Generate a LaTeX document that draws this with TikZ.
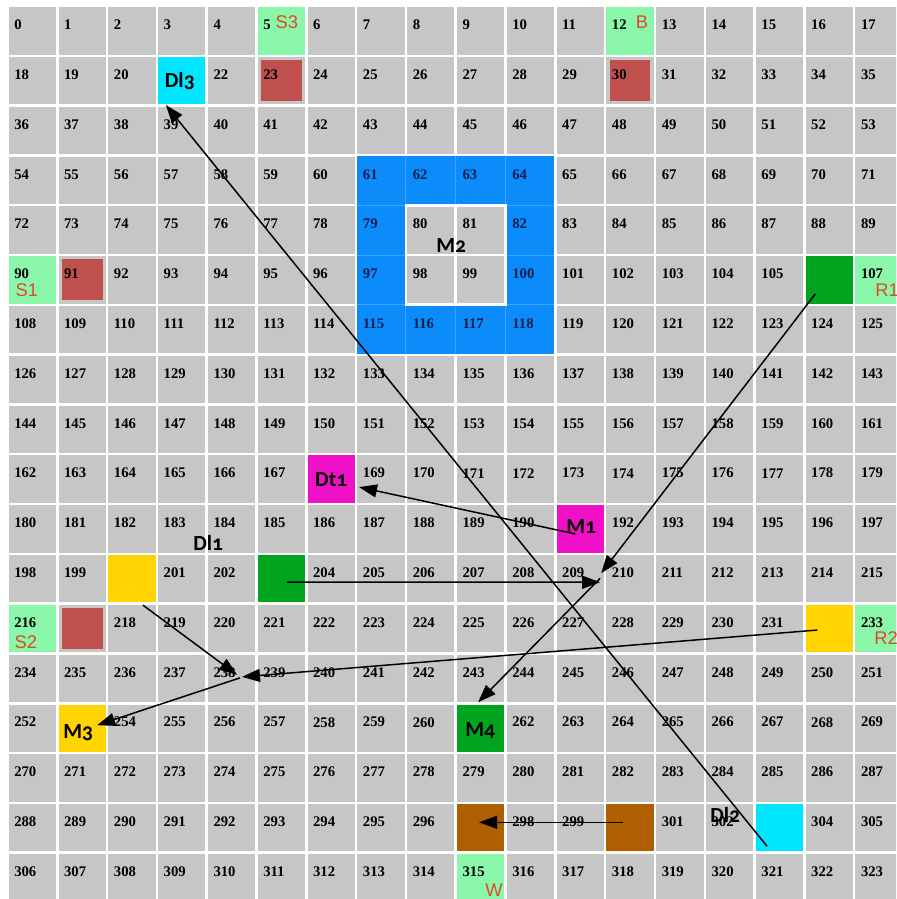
\documentclass[tikz,border=0pt]{standalone}
\usepackage{fontspec}
\setmainfont{Liberation Serif}
\newfontfamily\lblfont[Numbers=OldStyle]{Carlito}
\newfontfamily\tagfont{Liberation Sans}
\usetikzlibrary{arrows.meta}
\definecolor{cellgray}{HTML}{C6C6C6}
\definecolor{startgreen}{HTML}{8AF7AA}
\definecolor{obstred}{HTML}{C0504D}
\definecolor{dlcyan}{HTML}{00E6FF}
\definecolor{ringblue}{HTML}{0C8CFA}
\definecolor{ringline}{HTML}{3CA6FF}
\definecolor{ringtext}{HTML}{0A1E50}
\definecolor{mpink}{HTML}{F010C8}
\definecolor{myellow}{HTML}{FFD400}
\definecolor{mgreen}{HTML}{00A41E}
\definecolor{mbrown}{HTML}{B05F00}
\definecolor{tagred}{HTML}{E04A2A}
% cells whose number is covered
\foreach \h in {21,106,168,191,200,203,217,232,253,261,297,300,303}
  {\expandafter\gdef\csname hidecell\h\endcsname{}}
\begin{document}
\begin{tikzpicture}[x=1cm,y=1cm,
  tile/.style={minimum width=0.95cm,minimum height=0.95cm,inner sep=0pt},
  redtile/.style={tile,fill=obstred,minimum width=0.82cm,minimum height=0.82cm},
  num/.style={anchor=west,inner sep=0pt,font=\fontsize{8.4}{9}\selectfont\bfseries},
  lbl/.style={inner sep=0pt,font=\lblfont\bfseries\fontsize{12.3}{13}\selectfont},
  tag/.style={inner sep=0pt,text=tagred,font=\tagfont\fontsize{10.5}{11}\selectfont},
  flow/.style={-{Triangle[length=3.6mm,width=2.6mm]},line width=0.85pt}]
  \useasboundingbox (-0.15,0.12) rectangle (17.84,-17.93);
  \clip (-0.15,0.12) rectangle (17.84,-17.93);
  \fill[white] (-0.15,0.12) rectangle (17.84,-17.93);

  % grey grid
  \foreach \r in {0,...,17}
    \foreach \c in {0,...,17}
      \fill[cellgray] (\c+0.025,-\r-0.025) rectangle (\c+0.975,-\r-0.975);

  % M2 ring
  \fill[ringblue] (7.02,-3.02) rectangle (10.98,-6.98);
  \foreach \k in {8,9,10} \draw[ringline,line width=0.5pt] (\k,-3.02) -- (\k,-6.98);
  \foreach \k in {4,5,6} \draw[ringline,line width=0.5pt] (7.02,-\k) -- (10.98,-\k);
  \fill[white] (7.98,-3.98) rectangle (10.02,-6.02);
  \foreach \r in {4,5}
    \foreach \c in {8,9}
      \fill[cellgray] (\c+0.03,-\r-0.03) rectangle (\c+0.97,-\r-0.97);

  % coloured cells
  \node[tile,fill=startgreen] (c5) at (5.5,-0.5) {};
  \node[tile,fill=startgreen] (c12) at (12.5,-0.5) {};
  \node[tile,fill=startgreen] (c90) at (0.5,-5.5) {};
  \node[tile,fill=startgreen] (c107) at (17.5,-5.5) {};
  \node[tile,fill=startgreen] (c216) at (0.5,-12.5) {};
  \node[tile,fill=startgreen] (c233) at (17.5,-12.5) {};
  \node[tile,fill=startgreen] (c315) at (9.5,-17.5) {};
  \node[redtile] (c23) at (5.5,-1.5) {};
  \node[redtile] (c30) at (12.5,-1.5) {};
  \node[redtile] (c91) at (1.5,-5.5) {};
  \node[redtile] (c217) at (1.5,-12.5) {};
  \node[tile,fill=dlcyan] (c21) at (3.5,-1.5) {};
  \node[tile,fill=dlcyan] (c303) at (15.5,-16.5) {};
  \node[tile,fill=mgreen] (c106) at (16.5,-5.5) {};
  \node[tile,fill=mgreen] (c203) at (5.5,-11.5) {};
  \node[tile,fill=mgreen] (c261) at (9.5,-14.5) {};
  \node[tile,fill=mpink] (c168) at (6.5,-9.5) {};
  \node[tile,fill=mpink] (c191) at (11.5,-10.5) {};
  \node[tile,fill=myellow] (c200) at (2.5,-11.5) {};
  \node[tile,fill=myellow] (c232) at (16.5,-12.5) {};
  \node[tile,fill=myellow] (c253) at (1.5,-14.5) {};
  \node[tile,fill=mbrown] (c297) at (9.5,-16.5) {};
  \node[tile,fill=mbrown] (c300) at (12.5,-16.5) {};

  % cell numbers
  \foreach \r in {0,...,17}
    \foreach \c in {0,...,17}{
      \pgfmathtruncatemacro{\n}{18*\r+\c}
      \pgfmathtruncatemacro{\inring}{and(and(\r>2,\r<7),and(\c>6,\c<11))*(1-and(and(\r>3,\r<6),and(\c>7,\c<10)))}
      \ifnum\inring=1 \def\numcol{ringtext}\else\def\numcol{black}\fi
      \ifcsname hidecell\n\endcsname\else
        \node[num,text=\numcol] (n\n) at (\c+0.13,-\r-0.38) {\n};
      \fi
    }

  % machine and device labels
  \node[lbl] (dl3) at (3.46,-1.51) {Dl3};
  \node[lbl] (m2) at (8.91,-4.80) {M2};
  \node[lbl] (dt1) at (6.50,-9.50) {Dt1};
  \node[lbl] (m1) at (11.52,-10.46) {M1};
  \node[lbl] (dl1) at (4.03,-10.78) {Dl1};
  \node[lbl] (m3) at (1.42,-14.60) {M3};
  \node[lbl] (m4) at (9.49,-14.54) {M4};
  \node[lbl] (dl2) at (14.41,-16.24) {Dl2};

  % station tags
  \node[tag] (s3) at (5.61,-0.32) {S3};
  \node[tag] (b) at (12.74,-0.32) {B};
  \node[tag] (s1) at (0.39,-5.70) {S1};
  \node[tag,anchor=west] (r1) at (17.42,-5.70) {R1};
  \node[tag] (s2) at (0.37,-12.77) {S2};
  \node[tag,anchor=west] (r2) at (17.40,-12.69) {R2};
  \node[tag] (w) at (9.77,-17.75) {W};

  % moves
  \coordinate (j210) at (11.90,-11.49);
  \coordinate (j238) at (4.67,-13.49);
  \draw[flow] ([shift={(-0.25,-0.37)}]c303.center) -- ([shift={(-0.32,-0.49)}]c21.center);
  \draw[flow] ([shift={(-0.10,-0.10)}]c191.center) -- ([shift={(0.56,-0.16)}]c168.center);
  \draw[flow] ([shift={(0.11,-0.07)}]c203.center) -- ([shift={(0,-0.08)}]j210);
  \draw[flow] ([shift={(-0.28,-0.28)}]c106.center) -- ([shift={(0.02,0.10)}]j210);
  \draw[flow] (j210) -- ([shift={(-0.05,0.52)}]c261.center);
  \draw[flow] ([shift={(-0.24,-0.03)}]c232.center) -- ([shift={(0.04,0.02)}]j238);
  \draw[flow] ([shift={(0.22,-0.53)}]c200.center) -- ([shift={(-0.06,0.06)}]j238);
  \draw[flow] (j238) -- ([shift={(0.30,0.06)}]c253.center);
  \draw[flow] ([shift={(-0.14,0.11)}]c300.center) -- ([shift={(-0.03,0.11)}]c297.center);
\end{tikzpicture}
\end{document}
